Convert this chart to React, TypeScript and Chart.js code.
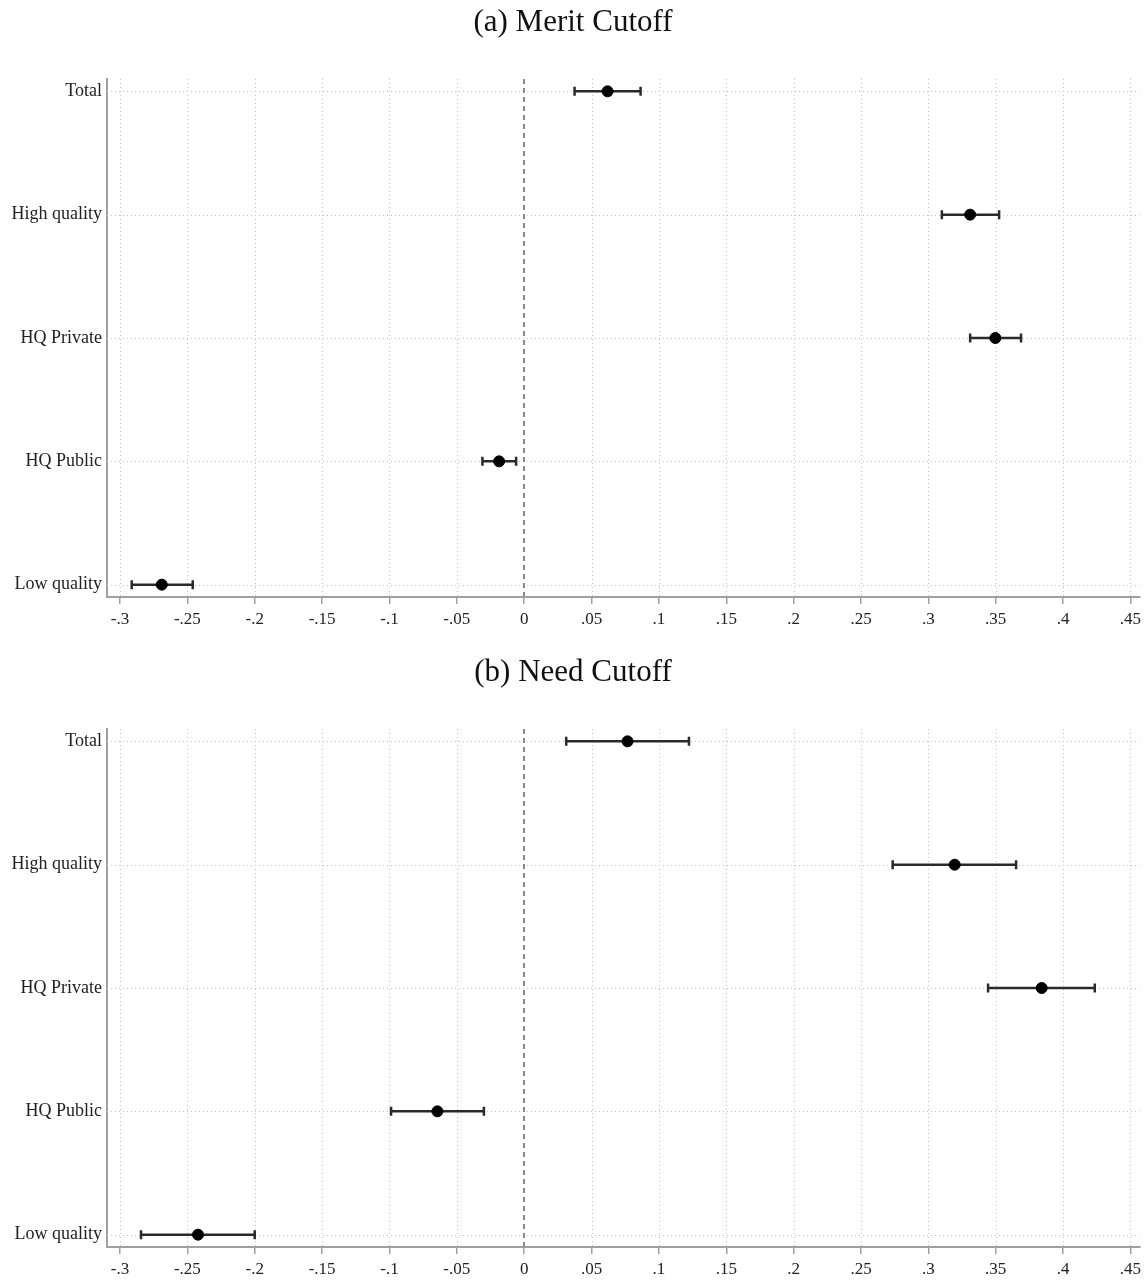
import React, { useEffect, useRef } from "react";
import { Chart, registerables } from "chart.js";

Chart.register(...registerables);

const categories = ["Total", "High quality", "HQ Private", "HQ Public", "Low quality"];
const xTicks = [-0.3, -0.25, -0.2, -0.15, -0.1, -0.05, 0, 0.05, 0.1, 0.15, 0.2, 0.25, 0.3, 0.35, 0.4, 0.45];

const meritEst = [0.0619, 0.331, 0.3497, -0.0186, -0.269];
const meritLo = [0.0374, 0.310, 0.331, -0.031, -0.2913];
const meritHi = [0.0864, 0.3525, 0.3688, -0.006, -0.246];

const needEst = [0.0767, 0.3195, 0.3841, -0.0644, -0.2421];
const needLo = [0.0312, 0.2735, 0.3443, -0.0988, -0.2844];
const needHi = [0.1223, 0.3651, 0.4235, -0.0299, -0.2];

const FONT = "'Liberation Serif', 'DejaVu Serif', serif";

function fmt(v: number): string {
  if (Math.abs(v) < 1e-9) return "0";
  const s = (Math.round(v * 100) / 100).toString();
  return s.replace(/^(-?)0\./, "$1.");
}

function Panel({ title, est, lo, hi }: { title: string; est: number[]; lo: number[]; hi: number[] }) {
  const ref = useRef<HTMLCanvasElement | null>(null);
  useEffect(() => {
    if (!ref.current) return;
    const customPlugin = {
      id: "custom",
      beforeDatasetsDraw(chart: any) {
        const { ctx, chartArea, scales } = chart;
        const xs = scales.x;
        const ys = scales.y;
        ctx.save();
        ctx.strokeStyle = "#c4c4c4";
        ctx.lineWidth = 1;
        ctx.setLineDash([1, 3]);
        xTicks.forEach((t) => {
          if (Math.abs(t) < 1e-9) return;
          const px = Math.round(xs.getPixelForValue(t)) + 0.5;
          ctx.beginPath();
          ctx.moveTo(px, chartArea.top);
          ctx.lineTo(px, chartArea.bottom);
          ctx.stroke();
        });
        categories.forEach((_, i) => {
          const py = Math.round(ys.getPixelForValue(i)) + 0.5;
          ctx.beginPath();
          ctx.moveTo(chartArea.left, py);
          ctx.lineTo(chartArea.right, py);
          ctx.stroke();
        });
        // zero line
        ctx.strokeStyle = "#8a8a8a";
        ctx.lineWidth = 2;
        ctx.setLineDash([5, 4]);
        const zx = Math.round(xs.getPixelForValue(0));
        ctx.beginPath();
        ctx.moveTo(zx, chartArea.top);
        ctx.lineTo(zx, chartArea.bottom);
        ctx.stroke();
        ctx.setLineDash([]);
        // error bars
        ctx.strokeStyle = "#2a2a2a";
        ctx.lineWidth = 2.5;
        categories.forEach((_, i) => {
          const py = ys.getPixelForValue(i);
          const x1 = xs.getPixelForValue(lo[i]);
          const x2 = xs.getPixelForValue(hi[i]);
          ctx.beginPath();
          ctx.moveTo(x1, py);
          ctx.lineTo(x2, py);
          ctx.moveTo(x1, py - 4.5);
          ctx.lineTo(x1, py + 4.5);
          ctx.moveTo(x2, py - 4.5);
          ctx.lineTo(x2, py + 4.5);
          ctx.stroke();
        });
        ctx.restore();
      },
      afterDraw(chart: any) {
        const { ctx } = chart;
        ctx.save();
        ctx.fillStyle = "#111";
        ctx.font = `31px ${FONT}`;
        ctx.textAlign = "center";
        ctx.textBaseline = "middle";
        ctx.fillText(title, chart.width / 2, 23);
        ctx.restore();
      },
    };
    const chart = new Chart(ref.current, {
      type: "scatter",
      data: {
        datasets: [
          {
            data: est.map((v, i) => ({ x: v, y: i })),
            backgroundColor: "#000",
            borderColor: "#000",
            pointRadius: 5.5,
            pointHoverRadius: 5.5,
          },
        ],
      },
      options: {
        animation: false,
        responsive: false,
        events: [],
        layout: { padding: { top: 79, right: 3, left: 0, bottom: 0 } },
        plugins: { legend: { display: false }, tooltip: { enabled: false }, title: { display: false } },
        scales: {
          x: {
            type: "linear",
            min: -0.30964,
            max: 0.4567,
            afterBuildTicks: (s: any) => {
              s.ticks = xTicks.map((v) => ({ value: v }));
            },
            afterFit: (s: any) => {
              s.height = 53;
            },
            grid: { display: true, drawOnChartArea: false, drawTicks: true, tickLength: 7, color: "#a0a0a0", lineWidth: 1.5 },
            border: { display: true, color: "#a0a0a0", width: 2 },
            ticks: {
              autoSkip: false,
              maxRotation: 0,
              padding: 2,
              color: "#222",
              font: { family: FONT, size: 17, lineHeight: 1.6 },
              callback: (v: any) => fmt(Number(v)),
            },
          },
          y: {
            type: "linear",
            reverse: true,
            min: -0.1,
            max: 4.1,
            afterBuildTicks: (s: any) => {
              s.ticks = categories.map((_, i) => ({ value: i }));
            },
            afterFit: (s: any) => {
              s.width = 107;
            },
            grid: { display: false, drawTicks: false },
            border: { display: true, color: "#a0a0a0", width: 2 },
            ticks: {
              autoSkip: false,
              padding: 5,
              color: "#222",
              font: { family: FONT, size: 18 },
              callback: (v: any) => categories[Math.round(Number(v))] ?? "",
            },
          },
        },
      },
      plugins: [customPlugin],
    } as any);
    return () => chart.destroy();
  }, [title, est, lo, hi]);
  return <canvas ref={ref} width={1146} height={650} style={{ display: "block", width: 1146, height: 650 }} />;
}

export default function App() {
  return (
    <div style={{ position: "absolute", left: 0, top: 0, width: 1146, height: 1300, background: "#fff" }}>
      <Panel title="(a) Merit Cutoff" est={meritEst} lo={meritLo} hi={meritHi} />
      <Panel title="(b) Need Cutoff" est={needEst} lo={needLo} hi={needHi} />
    </div>
  );
}
